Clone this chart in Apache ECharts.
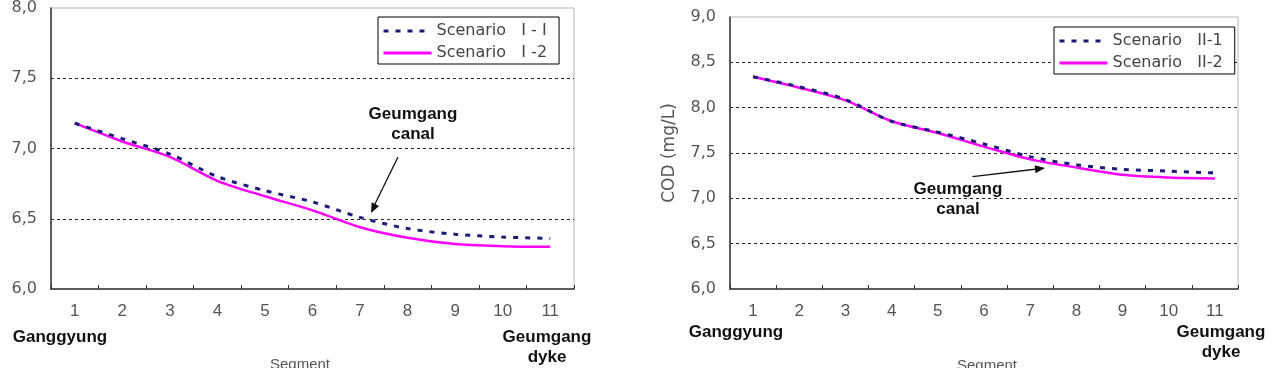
<!DOCTYPE html>
<html>
<head>
<meta charset="utf-8">
<script src="https://cdn.jsdelivr.net/npm/echarts@6/dist/echarts.min.js"></script>
<style>
html,body{margin:0;padding:0;background:#fff;}
#c{width:1272px;height:368px;}
</style>
</head>
<body>
<div id="c"></div>
<script>
// ---- data ----
const segments = ['1','2','3','4','5','6','7','8','9','10','11'];
const scenarioI1  = [7.18, 7.07, 6.96, 6.80, 6.70, 6.62, 6.51, 6.43, 6.39, 6.37, 6.36];
const scenarioI2  = [7.18, 7.05, 6.94, 6.77, 6.66, 6.56, 6.44, 6.365, 6.32, 6.305, 6.30];
const scenarioII1 = [8.34, 8.23, 8.09, 7.85, 7.73, 7.60, 7.46, 7.37, 7.32, 7.30, 7.28];
const scenarioII2 = [8.34, 8.22, 8.08, 7.85, 7.72, 7.57, 7.43, 7.34, 7.26, 7.23, 7.22];
const namesI  = ['Scenario   I - I', 'Scenario   I -2'];
const namesII = ['Scenario   II-1', 'Scenario   II-2'];
const yRangeLeft  = [6.0, 8.0];
const yRangeRight = [6.0, 9.0];
const yStep = 0.5;
const yNameRight = 'COD (mg/L)';
const xName = 'Segment';
const startLabel = 'Ganggyung';
const endLabel = 'Geumgang\ndyke';
const canalLabel = 'Geumgang\ncanal';

// ---- styles ----
const NAVY = '#1c1c78';
const MAGENTA = '#ff00ff';
const tickFont = 'Liberation Sans';
const labFont = 'DejaVu Sans';

function fmt(v){ return v.toFixed(1).replace('.', ','); }

const chart = echarts.init(document.getElementById('c'), null, {renderer:'canvas'});

function xAxisCfg(gi){
  return {
    type:'category', gridIndex:gi, data:segments, boundaryGap:true,
    axisLine:{show:true, lineStyle:{color:'#333', width:1.5}},
    axisTick:{show:true, inside:true, length:4, lineStyle:{color:'#333'}},
    axisLabel:{margin:14, fontFamily:tickFont, fontSize:17, color:'#555'},
    splitLine:{show:false}
  };
}
function yAxisCfg(gi, range, extra){
  return Object.assign({
    type:'value', gridIndex:gi, min:range[0], max:range[1], interval:yStep,
    axisLine:{show:true, lineStyle:{color:'#333', width:1.5}},
    axisTick:{show:false},
    axisLabel:{margin:14, fontFamily:labFont, fontSize:16, color:'#555', formatter:fmt},
    splitLine:{show:true, showMinLine:false, showMaxLine:false, lineStyle:{color:'#222', type:[3,3], width:1}}
  }, extra||{});
}
function solid(name, data, xi, yi){
  return {name:name, type:'line', xAxisIndex:xi, yAxisIndex:yi, data:data, smooth:0.3,
    symbol:'none', lineStyle:{color:MAGENTA, width:2.5}, itemStyle:{color:MAGENTA}, z:2};
}
function dotted(name, data, xi, yi){
  return {name:name, type:'line', xAxisIndex:xi, yAxisIndex:yi, data:data, smooth:0.3,
    symbol:'none', lineStyle:{color:NAVY, width:3, type:[5,7], cap:'butt'}, itemStyle:{color:NAVY}, z:3};
}
function legendCfg(names, left, top){
  return {
    data:names, orient:'vertical', left:left, top:top,
    backgroundColor:'#fff', borderColor:'#000', borderWidth:1, borderRadius:0,
    padding:[6,12,3,4], itemWidth:48, itemHeight:12, itemGap:6,
    itemStyle:{opacity:0},
    lineStyle:{width:3},
    textStyle:{fontFamily:labFont, fontSize:16, color:'#444'}
  };
}
function txt(x, y, text, opts){
  return {type:'text', x:x, y:y, z:50, style:Object.assign({
    text:text, fill:'#111', font:'bold 17px "Liberation Sans"', align:'center', verticalAlign:'middle', lineHeight:20
  }, opts||{})};
}

const option = {
  animation:false,
  backgroundColor:'#fff',
  grid:[
    {left:51, top:6, width:523, height:283, show:true, borderColor:'#b5b5b5', borderWidth:1, backgroundColor:'#fff'},
    {left:730, top:17, width:508, height:272, show:true, borderColor:'#b5b5b5', borderWidth:1, backgroundColor:'#fff'}
  ],
  xAxis:[xAxisCfg(0), xAxisCfg(1)],
  yAxis:[
    yAxisCfg(0, yRangeLeft),
    yAxisCfg(1, yRangeRight, {name:yNameRight, nameLocation:'middle', nameRotate:90, nameGap:52,
      nameTextStyle:{fontFamily:labFont, fontSize:17, color:'#555'}})
  ],
  legend:[legendCfg(namesI, 378, 17), legendCfg(namesII, 1054, 27)],
  series:[
    solid(namesI[1], scenarioI2, 0, 0),
    dotted(namesI[0], scenarioI1, 0, 0),
    solid(namesII[1], scenarioII2, 1, 1),
    dotted(namesII[0], scenarioII1, 1, 1)
  ],
  graphic:[
    // left chart annotations
    txt(60, 337, startLabel),
    txt(547, 347, endLabel),
    txt(413, 124, canalLabel),
    {type:'line', z:50, shape:{x1:398, y1:157, x2:374, y2:206}, style:{stroke:'#111', lineWidth:1.3}},
    {type:'polygon', z:50, shape:{points:[[371,213],[379.2,205.9],[371.6,202.2]]}, style:{fill:'#111'}},
    txt(300, 355, xName, {font:'15px "Liberation Sans"', fill:'#555', verticalAlign:'top'}),
    // right chart annotations
    txt(736, 332, startLabel),
    txt(1221, 342, endLabel),
    txt(958, 199, canalLabel),
    {type:'line', z:50, shape:{x1:972.6, y1:176.7, x2:1037, y2:169}, style:{stroke:'#111', lineWidth:1.3}},
    {type:'polygon', z:50, shape:{points:[[1045,168],[1035.6,173.2],[1034.6,165.2]]}, style:{fill:'#111'}},
    txt(987, 356, xName, {font:'15px "Liberation Sans"', fill:'#555', verticalAlign:'top'})
  ]
};
chart.setOption(option);
</script>
</body>
</html>
